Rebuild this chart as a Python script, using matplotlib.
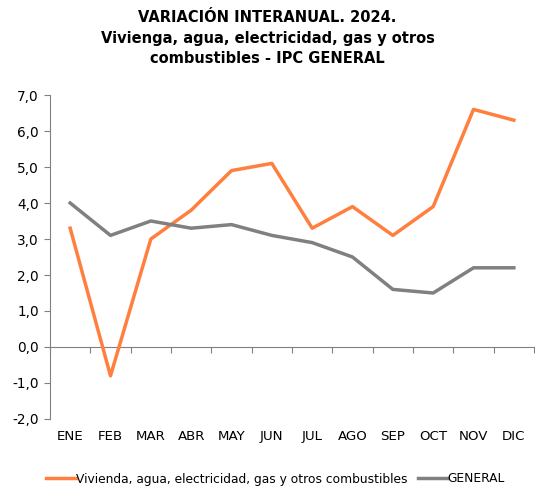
import matplotlib
matplotlib.use("Agg")
import matplotlib.pyplot as plt
from matplotlib.ticker import FuncFormatter

months = ["ENE", "FEB", "MAR", "ABR", "MAY", "JUN", "JUL", "AGO", "SEP", "OCT", "NOV", "DIC"]
vivienda = [3.3, -0.8, 3.0, 3.8, 4.9, 5.1, 3.3, 3.9, 3.1, 3.9, 6.6, 6.3]
general = [4.0, 3.1, 3.5, 3.3, 3.4, 3.1, 2.9, 2.5, 1.6, 1.5, 2.2, 2.2]
label_viv = "Vivienda, agua, electricidad, gas y otros combustibles"
label_gen = "GENERAL"
title = "VARIACIÓN INTERANUAL. 2024.\nVivienga, agua, electricidad, gas y otros\ncombustibles - IPC GENERAL"

plt.rcParams['font.family'] = ['DejaVu Sans']

fig = plt.figure(figsize=(5.35, 4.87), dpi=100)
ax = fig.add_axes([50/535, 1-419/487, 484/535, (419-95)/487])

x = list(range(len(months)))
ax.plot(x, vivienda, color="#FF7F3F", lw=2.5, label=label_viv)
ax.plot(x, general, color="#808080", lw=2.5, label=label_gen)

ax.set_xlim(-0.5, len(months)-0.5)
ax.set_ylim(-2, 7)
ax.set_yticks([-2, -1, 0, 1, 2, 3, 4, 5, 6, 7])
ax.yaxis.set_major_formatter(FuncFormatter(lambda v, p: f"{v:.1f}".replace(".", ",")))
ax.set_xticks(x)
ax.set_xticklabels(months)
ax.tick_params(axis='x', length=0, labelsize=9.6, pad=8)
ax.tick_params(axis='y', length=4, color="#808080", labelsize=9.8, pad=4)

for s in ["top", "right", "bottom"]:
    ax.spines[s].set_visible(False)
ax.spines["left"].set_color("#808080")

sec = ax.secondary_xaxis(2/9)
sec.set_xticks([i - 0.5 for i in range(len(months)+1)])
sec.tick_params(axis='x', length=4, color="#808080", direction="out", labelbottom=False, labeltop=False)
sec.spines["bottom"].set_color("#808080")
sec.spines["top"].set_color("#808080")

fig.text(0.5, 1-38/487, title, ha="center", va="center", fontsize=10.5, fontweight="bold", linespacing=1.42)

fig.legend(loc="center", bbox_to_anchor=(0.515, 1-479/487), ncol=2, frameon=False,
           fontsize=8.8, handlelength=2.4, handletextpad=0.0, columnspacing=0.9)

fig.savefig("out.png", dpi=100)
